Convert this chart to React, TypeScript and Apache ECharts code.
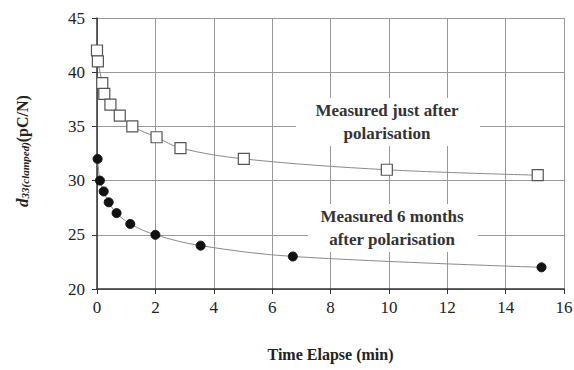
import React, { useEffect, useRef } from "react";
import * as echarts from "echarts";

const justAfterX = [0, 0.03, 0.18, 0.25, 0.46, 0.78, 1.21, 2.04, 2.86, 5.03, 9.93, 15.1];
const justAfterY = [42, 41, 39, 38, 37, 36, 35, 34, 33, 32, 31, 30.5];
const sixMonthsX = [0.02, 0.1, 0.23, 0.4, 0.67, 1.14, 2.0, 3.55, 6.71, 15.23];
const sixMonthsY = [32, 30, 29, 28, 27, 26, 25, 24, 23, 22];

const FONT = "'Liberation Serif', 'DejaVu Serif', serif";

export default function App() {
  const ref = useRef<HTMLDivElement>(null);
  useEffect(() => {
    const chart = echarts.init(ref.current!, null, { renderer: "svg" });
    const lineStyle = { color: "#8a8a8a", width: 1 };
    chart.setOption({
      animation: false,
      backgroundColor: "#fff",
      grid: { left: 97, right: 10, top: 18, bottom: 81, containLabel: false, outerBoundsMode: "none" },
      xAxis: {
        type: "value",
        min: 0,
        max: 16,
        interval: 2,
        axisLine: { onZero: false, lineStyle: { color: "#333", width: 1.5 } },
        axisTick: { show: true, length: 5, lineStyle: { color: "#333" } },
        axisLabel: { color: "#222", fontFamily: FONT, fontSize: 17, margin: 10 },
        splitLine: { show: true, lineStyle: { color: "#999", width: 1 } },
        name: "Time Elapse (min)",
        nameLocation: "middle",
        nameGap: 57,
        nameTextStyle: { color: "#222", fontFamily: FONT, fontSize: 16, fontWeight: "bold" },
      },
      yAxis: {
        type: "value",
        min: 20,
        max: 45,
        interval: 5,
        axisLine: { show: true, lineStyle: { color: "#333", width: 1.5 } },
        axisTick: { show: true, length: 5, lineStyle: { color: "#333" } },
        axisLabel: { color: "#222", fontFamily: FONT, fontSize: 17, margin: 12 },
        splitLine: { show: true, lineStyle: { color: "#999", width: 1 } },
      },
      graphic: [
        {
          type: "text",
          x: 22,
          y: 151,
          rotation: Math.PI / 2,
          style: {
            text: "{d|d}{s|33(clamped)}{n|(pC/N)}",
            align: "center",
            verticalAlign: "middle",
            rich: {
              d: { fontFamily: FONT, fontSize: 17, fontWeight: "bold", fontStyle: "italic", fill: "#222" },
              s: { fontFamily: FONT, fontSize: 11, fontWeight: "bold", fontStyle: "italic", fill: "#222", padding: [6, 0, 0, 0] },
              n: { fontFamily: FONT, fontSize: 16, fontWeight: "bold", fill: "#222" },
            },
          },
        },
        {
          type: "rect",
          shape: { x: 296, y: 98, width: 184, height: 48 },
          style: { fill: "#fff" },
          z: 10,
        },
        {
          type: "text",
          x: 387,
          y: 122,
          z: 11,
          style: {
            text: "Measured just after\npolarisation",
            align: "center",
            verticalAlign: "middle",
            fontFamily: FONT,
            fontSize: 17,
            fontWeight: "bold",
            lineHeight: 23,
            fill: "#333",
          },
        },
        {
          type: "rect",
          shape: { x: 308, y: 204, width: 170, height: 48 },
          style: { fill: "#fff" },
          z: 10,
        },
        {
          type: "text",
          x: 392,
          y: 228,
          z: 11,
          style: {
            text: "Measured 6 months\nafter polarisation",
            align: "center",
            verticalAlign: "middle",
            fontFamily: FONT,
            fontSize: 17,
            fontWeight: "bold",
            lineHeight: 23,
            fill: "#333",
          },
        },
      ],
      series: [
        {
          name: "Measured just after polarisation",
          type: "line",
          smooth: 0.35,
          data: justAfterX.map((x, i) => [x, justAfterY[i]]),
          symbol: "rect",
          symbolSize: 11,
          itemStyle: { color: "#fff", borderColor: "#555", borderWidth: 1.2 },
          lineStyle,
          z: 3,
        },
        {
          name: "Measured 6 months after polarisation",
          type: "line",
          smooth: 0.35,
          data: sixMonthsX.map((x, i) => [x, sixMonthsY[i]]),
          symbol: "circle",
          symbolSize: 9,
          itemStyle: { color: "#111", borderColor: "#111" },
          lineStyle,
          z: 3,
        },
      ],
    });
    return () => chart.dispose();
  }, []);
  return (
    <div
      ref={ref}
      style={{ position: "fixed", left: 0, top: 0, width: 574, height: 370 }}
    />
  );
}
